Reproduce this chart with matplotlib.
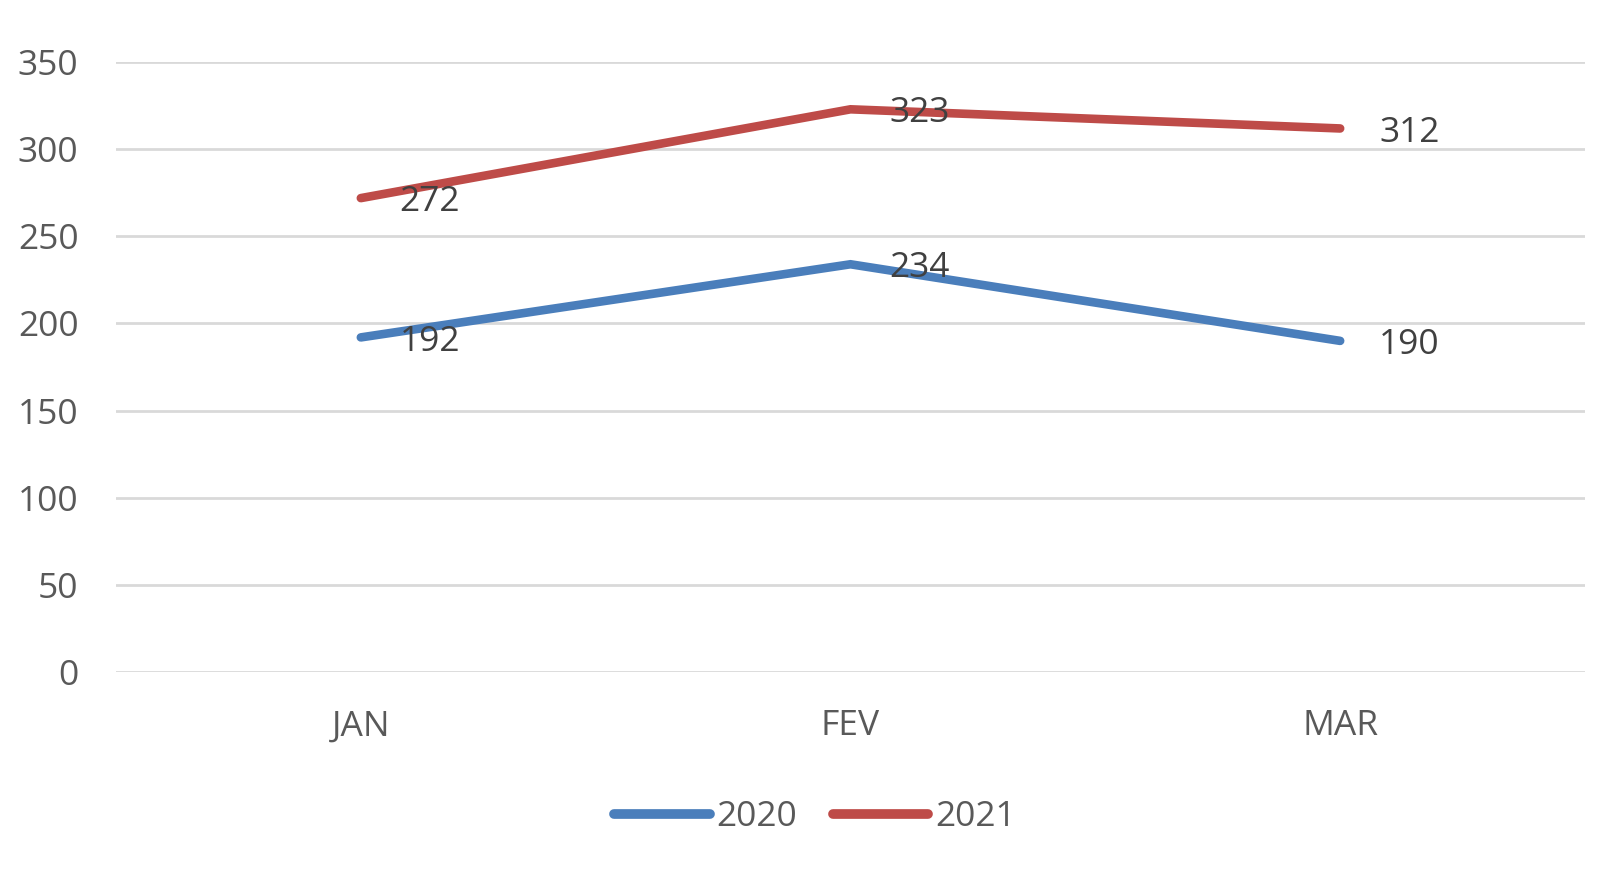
import matplotlib
matplotlib.use("Agg")
import matplotlib.pyplot as plt

categories = ["JAN", "FEV", "MAR"]
series_names = ["2020", "2021"]
values_2020 = [192, 234, 190]
values_2021 = [272, 323, 312]
yticks = [0, 50, 100, 150, 200, 250, 300, 350]

colors = ["#4A7EBB", "#BE4B48"]

plt.rcParams['font.family'] = ['Open Sans', 'DejaVu Sans']

W, H = 1619, 869
fig = plt.figure(figsize=(W / 100, H / 100), dpi=100)
ax = fig.add_axes([116 / W, 1 - 671.7 / H, (1585 - 116) / W, (671.7 - 62.3) / H])

x = list(range(len(categories)))
for vals, name, c in zip([values_2020, values_2021], series_names, colors):
    ax.plot(x, vals, color=c, lw=6.2, solid_capstyle='round', solid_joinstyle='miter', label=name, zorder=3)
    for xi, v in zip(x, vals):
        ax.annotate(str(v), (xi, v), xytext=(28, -3), textcoords='offset points',
                    ha='left', va='center', fontsize=25.5, color='#404040', zorder=4)

ax.set_xlim(-0.5, 2.5)
ax.set_ylim(0, 350)
ax.set_yticks(yticks)
ax.set_xticks(x)
ax.set_xticklabels(categories)
ax.yaxis.grid(True, color='#D9D9D9', lw=2)
ax.set_axisbelow(True)
for s in ax.spines.values():
    s.set_visible(False)
ax.tick_params(axis='both', length=0, labelsize=25.5, colors='#595959')
ax.tick_params(axis='y', pad=27)
ax.tick_params(axis='x', pad=27)

leg = fig.legend(loc='center', bbox_to_anchor=(815 / W, 1 - 817 / H), ncol=2, frameon=False,
                 fontsize=25.5, handlelength=2.7, handletextpad=0.2, columnspacing=1.0, labelcolor='#595959')
for l in leg.get_lines():
    l.set_linewidth(7)
    l.set_solid_capstyle('round')

fig.savefig("out.png", dpi=100, facecolor='white')
